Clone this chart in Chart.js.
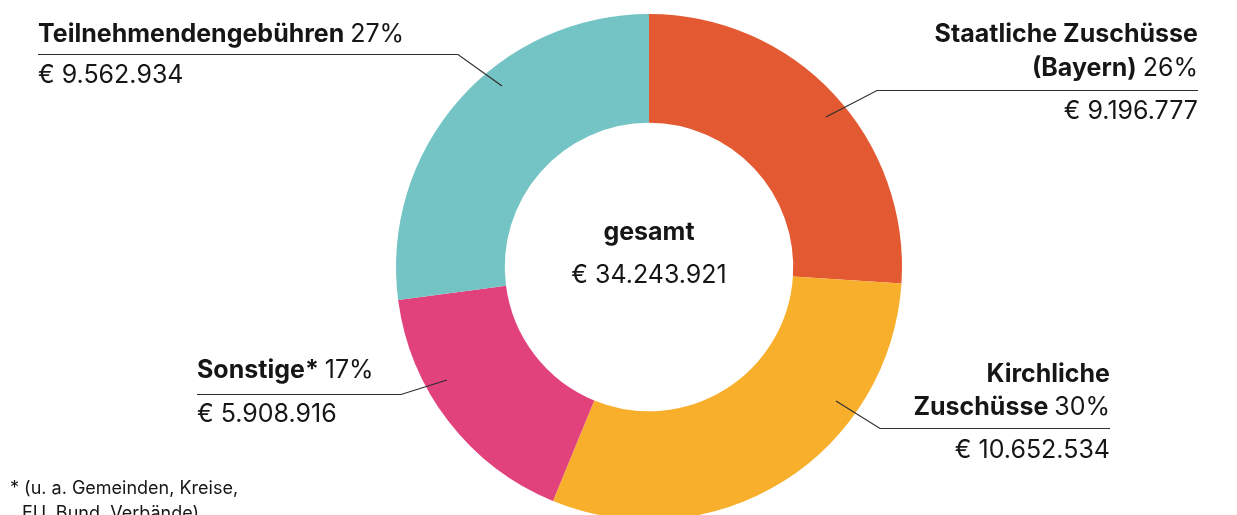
<!DOCTYPE html>
<html lang="de">
<head>
<meta charset="utf-8">
<title>Finanzierung gesamt</title>
<script src="https://cdn.jsdelivr.net/npm/chart.js@4"></script>
<style>
  html, body { margin: 0; padding: 0; background: #fff; overflow: hidden; }
  #wrap { position: relative; width: 1237px; height: 530px; }
</style>
</head>
<body>
<div id="wrap"><canvas id="finanzChart"></canvas></div>
<script>
// Einnahmen nach Quelle (Reihenfolge im Uhrzeigersinn ab 12 Uhr)
const quellen = ["Staatliche Zuschüsse (Bayern)", "Kirchliche Zuschüsse", "Sonstige*", "Teilnehmendengebühren"];
const betraege = [9196777, 10652534, 5908916, 9562934];
const anteile = ["26%", "30%", "17%", "27%"];
const betragTexte = ["€ 9.196.777", "€ 10.652.534", "€ 5.908.916", "€ 9.562.934"];
const farben = ["#e35a32", "#f7af2c", "#e1427c", "#74c4c5"];
const gesamtText = "€ 34.243.921";
const fussnote = ["* (u. a. Gemeinden, Kreise,", "EU, Bund, Verbände)"];

const FONT = "Inter, 'Noto Sans', sans-serif";
const TEXT = "#161616";
const LINE = "#2e2e2e";

// Beschriftungen: Zeilen (fett + normal), Ausrichtung und Führungslinie
// anchor = Punkt auf dem Ring relativ zur Mitte, lineY/lineX0/lineX1 = Unterstrich
const beschriftung = [
  { align: "right", x: 1198, zeilen: [["Staatliche Zuschüsse", ""], ["(Bayern) ", anteile[0]]], baselines: [42, 76],
    wertY: 119, lineY: 90, lineX0: 877, lineX1: 1198, anchor: [177, -150] },
  { align: "right", x: 1110, zeilen: [["Kirchliche", ""], ["Zuschüsse ", anteile[1]]], baselines: [382, 415],
    wertY: 458, lineY: 428, lineX0: 880, lineX1: 1110, anchor: [187, 134] },
  { align: "left", x: 197, zeilen: [["Sonstige* ", anteile[2]]], baselines: [378],
    wertY: 422, lineY: 394, lineX0: 197, lineX1: 401, anchor: [-202, 113] },
  { align: "left", x: 38, zeilen: [["Teilnehmendengebühren ", anteile[3]]], baselines: [42],
    wertY: 83, lineY: 54, lineX0: 38, lineX1: 458, anchor: [-147, -181] }
];

function zeichneZeile(ctx, x, y, fett, normal, align) {
  ctx.font = "700 25px " + FONT;
  const wF = ctx.measureText(fett).width;
  ctx.font = "400 25px " + FONT;
  const wN = ctx.measureText(normal).width;
  const start = align === "right" ? x - wF - wN : x;
  ctx.textAlign = "left";
  ctx.font = "700 25px " + FONT;
  ctx.fillText(fett, start, y);
  ctx.font = "400 25px " + FONT;
  ctx.fillText(normal, start + wF, y);
}

const labelPlugin = {
  id: "labelPlugin",
  afterDraw(chart) {
    const ctx = chart.ctx;
    const arc = chart.getDatasetMeta(0).data[0];
    const cx = arc.x, cy = arc.y;
    ctx.save();
    ctx.fillStyle = TEXT;
    ctx.textBaseline = "alphabetic";

    // Mitte
    ctx.textAlign = "center";
    ctx.font = "700 25px " + FONT;
    ctx.fillText("gesamt", cx, cy - 27);
    ctx.font = "400 25px " + FONT;
    ctx.fillText(gesamtText, cx, cy + 16);

    beschriftung.forEach((b, i) => {
      b.zeilen.forEach((z, k) => zeichneZeile(ctx, b.x, b.baselines[k], z[0], z[1], b.align));
      ctx.font = "400 25px " + FONT;
      ctx.textAlign = b.align;
      ctx.fillText(betragTexte[i], b.x, b.wertY);

      // Führungslinie
      const ax = cx + b.anchor[0], ay = cy + b.anchor[1];
      const elbowX = b.align === "right" ? b.lineX0 : b.lineX1;
      ctx.strokeStyle = LINE;
      ctx.lineWidth = 1.2;
      ctx.beginPath();
      ctx.moveTo(ax, ay);
      ctx.lineTo(elbowX, b.lineY + 0.5);
      ctx.lineTo(b.align === "right" ? b.lineX1 : b.lineX0, b.lineY + 0.5);
      ctx.stroke();
    });

    // Fußnote
    ctx.textAlign = "left";
    ctx.font = "400 18px " + FONT;
    ctx.fillText(fussnote[0], 10, 494);
    ctx.fillText(fussnote[1], 22, 519);
    ctx.restore();
  }
};

new Chart(document.getElementById("finanzChart"), {
  type: "doughnut",
  data: {
    labels: quellen,
    datasets: [{
      data: betraege,
      backgroundColor: farben,
      borderWidth: 0,
      hoverOffset: 0
    }]
  },
  options: {
    responsive: true,
    maintainAspectRatio: false,
    animation: false,
    cutout: "57%",
    layout: { padding: { top: 14, bottom: 10, left: 396, right: 335 } },
    plugins: { legend: { display: false }, tooltip: { enabled: false } }
  },
  plugins: [labelPlugin]
});
</script>
</body>
</html>
